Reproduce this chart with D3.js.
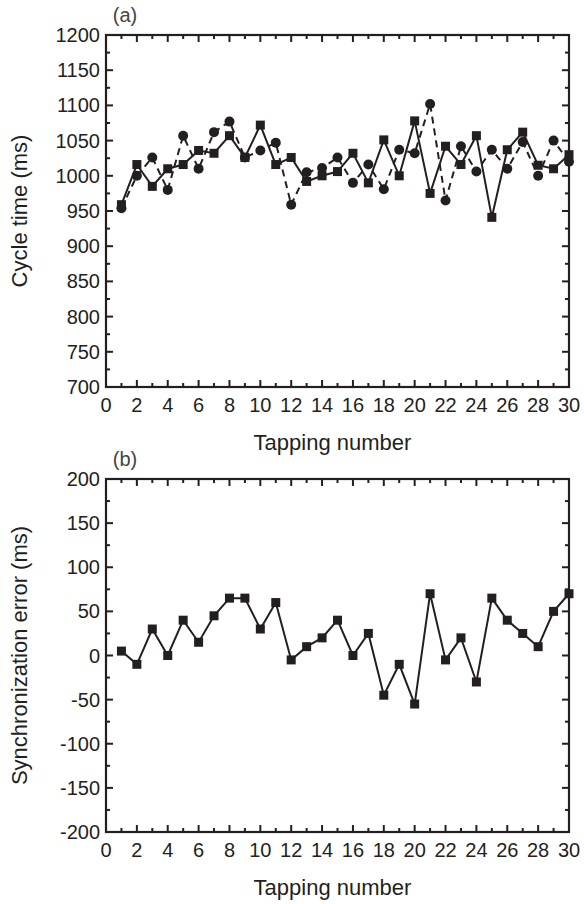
<!DOCTYPE html>
<html>
<head>
<meta charset="utf-8">
<script src="https://cdn.jsdelivr.net/npm/d3@7"></script>
<style>
  body { margin: 0; background: #fff; }
  svg { display: block; font-family: "Liberation Sans", Arial, sans-serif; }
</style>
</head>
<body>
<div id="chart"></div>
<script>
// tapping number 1..30
const taps = d3.range(1, 31);

// panel (a) cycle time (ms)
const cycleSquare = [959, 1016, 985, 1010, 1016, 1036, 1032, 1057, 1026, 1072,
  1016, 1026, 992, 1000, 1006, 1032, 990, 1051, 1000, 1078,
  975, 1042, 1016, 1057, 941, 1037, 1062, 1015, 1010, 1030];
const cycleCircle = [954, 1000, 1026, 980, 1057, 1010, 1062, 1077, 1026, 1036,
  1047, 959, 1005, 1011, 1026, 990, 1016, 981, 1037, 1032,
  1102, 965, 1042, 1006, 1037, 1010, 1048, 1000, 1050, 1020];

// panel (b) synchronization error (ms)
const syncError = [5, -10, 30, 0, 40, 15, 45, 65, 65, 30,
  60, -5, 10, 20, 40, 0, 25, -45, -10, -55,
  70, -5, 20, -30, 65, 40, 25, 10, 50, 70];

const xTicks = d3.range(0, 31, 2);
const xMinor = d3.range(1, 31, 2);
const yTicksA = d3.range(700, 1201, 50);
const yTicksB = d3.range(-200, 201, 50);

const W = 584, H = 904;
const ink = '#231f20';
const left = 106, right = 569;

const svg = d3.select('#chart').append('svg')
  .attr('width', W)
  .attr('height', H);

const x = d3.scaleLinear().domain([0, 30]).range([left, right]);

function panel(top, bottom, yDomain, yTicks, yTitle, tag) {
  const y = d3.scaleLinear().domain(yDomain).range([bottom, top]);
  const g = svg.append('g');
  const step = yTicks[1] - yTicks[0];
  const yMinor = yTicks.slice(0, -1).map(v => v + step / 2);

  // inward ticks on all four sides
  const tickG = g.append('g').attr('stroke', ink).attr('stroke-width', 2);
  xTicks.forEach(t => {
    tickG.append('line').attr('x1', x(t)).attr('x2', x(t)).attr('y1', bottom).attr('y2', bottom - 7);
    tickG.append('line').attr('x1', x(t)).attr('x2', x(t)).attr('y1', top).attr('y2', top + 7);
  });
  xMinor.forEach(t => {
    tickG.append('line').attr('x1', x(t)).attr('x2', x(t)).attr('y1', bottom).attr('y2', bottom - 4);
    tickG.append('line').attr('x1', x(t)).attr('x2', x(t)).attr('y1', top).attr('y2', top + 4);
  });
  yTicks.forEach(t => {
    tickG.append('line').attr('x1', left).attr('x2', left + 7).attr('y1', y(t)).attr('y2', y(t));
    tickG.append('line').attr('x1', right).attr('x2', right - 7).attr('y1', y(t)).attr('y2', y(t));
  });
  yMinor.forEach(t => {
    tickG.append('line').attr('x1', left).attr('x2', left + 4).attr('y1', y(t)).attr('y2', y(t));
    tickG.append('line').attr('x1', right).attr('x2', right - 4).attr('y1', y(t)).attr('y2', y(t));
  });

  // frame
  g.append('rect')
    .attr('x', left).attr('y', top)
    .attr('width', right - left).attr('height', bottom - top)
    .attr('fill', 'none').attr('stroke', ink).attr('stroke-width', 2.2);

  // tick labels
  g.selectAll('.xl').data(xTicks).enter().append('text')
    .attr('x', d => x(d)).attr('y', bottom + 25)
    .attr('text-anchor', 'middle')
    .attr('font-size', 20).attr('fill', ink)
    .text(d => d);
  g.selectAll('.yl').data(yTicks).enter().append('text')
    .attr('x', left - 6).attr('y', d => y(d) + 7)
    .attr('text-anchor', 'end')
    .attr('font-size', 20).attr('fill', ink)
    .text(d => d);

  g.append('text')
    .attr('x', (left + right) / 2 - 5).attr('y', bottom + 63)
    .attr('text-anchor', 'middle')
    .attr('font-size', 22).attr('fill', ink)
    .text('Tapping number');

  g.append('text')
    .attr('transform', `translate(27,${(top + bottom) / 2}) rotate(-90)`)
    .attr('text-anchor', 'middle')
    .attr('font-size', 22).attr('fill', ink)
    .text(yTitle);

  g.append('text')
    .attr('x', 125).attr('y', top - 13)
    .attr('text-anchor', 'middle')
    .attr('font-size', 20).attr('fill', '#444')
    .text(tag);

  return { g, y };
}

function squares(g, y, vals) {
  g.append('path')
    .attr('d', d3.line().x((d, i) => x(taps[i])).y(d => y(d))(vals))
    .attr('fill', 'none').attr('stroke', ink).attr('stroke-width', 2);
  g.selectAll(null).data(vals).enter().append('rect')
    .attr('x', (d, i) => x(taps[i]) - 4.5)
    .attr('y', d => y(d) - 4.5)
    .attr('width', 9).attr('height', 9)
    .attr('fill', ink);
}

function circles(g, y, vals) {
  g.append('path')
    .attr('d', d3.line().x((d, i) => x(taps[i])).y(d => y(d))(vals))
    .attr('fill', 'none').attr('stroke', ink).attr('stroke-width', 2)
    .attr('stroke-dasharray', '7,5');
  g.selectAll(null).data(vals).enter().append('circle')
    .attr('cx', (d, i) => x(taps[i]))
    .attr('cy', d => y(d))
    .attr('r', 5)
    .attr('fill', ink);
}

const a = panel(35, 387, [700, 1200], yTicksA, 'Cycle time (ms)', '(a)');
circles(a.g, a.y, cycleCircle);
squares(a.g, a.y, cycleSquare);

const b = panel(479, 832, [-200, 200], yTicksB, 'Synchronization error  (ms)', '(b)');
squares(b.g, b.y, syncError);
</script>
</body>
</html>
